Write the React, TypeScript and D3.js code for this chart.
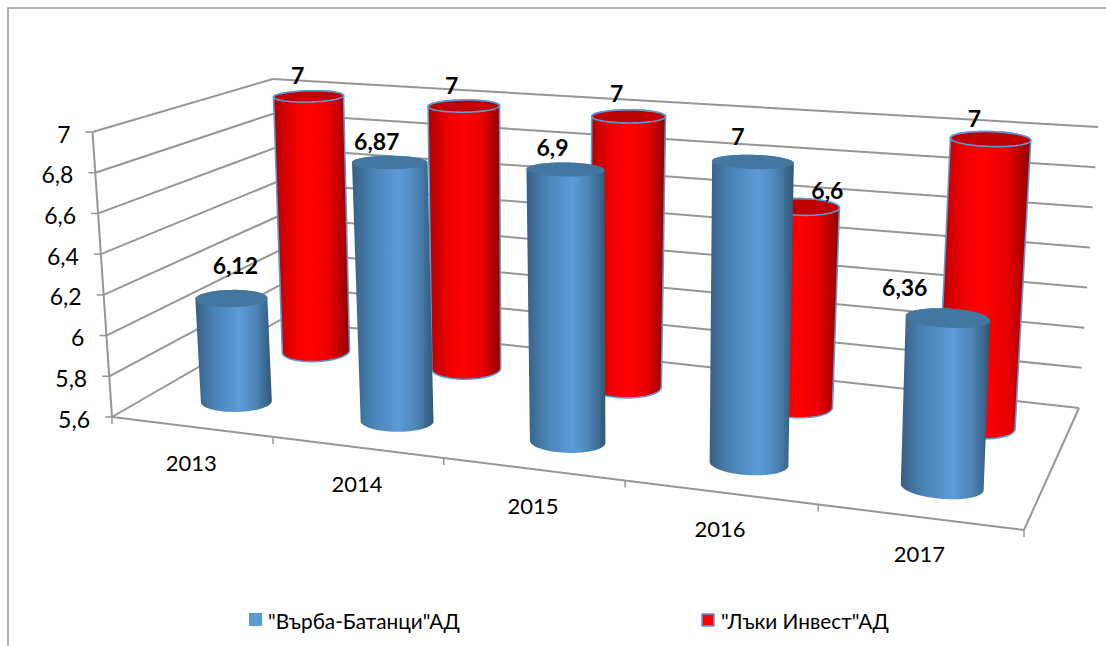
import React from "react";
import * as d3 from "d3";

const categories = ["2013", "2014", "2015", "2016", "2017"];
const seriesNames = ['"Върба-Батанци"АД', '"Лъки Инвест"АД'];
const varbaValues = [6.12, 6.87, 6.9, 7, 6.36];
const lakiValues = [7, 7, 7, 6.6, 7];
const valueTicks = [5.6, 5.8, 6, 6.2, 6.4, 6.6, 6.8, 7];
const tickLabels = ["5,6", "5,8", "6", "6,2", "6,4", "6,6", "6,8", "7"];
const varbaLabels = ["6,12", "6,87", "6,9", "7", "6,36"];
const lakiLabels = ["7", "7", "7", "6,6", "7"];

// label placement relative to the top of each cylinder
const varbaNudge: [number, number][] = [[4, -33], [-13, -21], [-13, -22], [-15, -26], [-43, -31]];
const lakiNudge: [number, number][] = [[-11, -21], [-12, -21], [-12, -23], [26, -17], [-16, -21]];

const W = 1106, H = 646;
const FONT = "Lato, Carlito, 'Noto Sans', sans-serif";
const GRID = "#969696";

// cube frame on screen: [x,y] of the eight corners (front/back, left/right, bottom/top)
const frame = {
  flb: [112, 417], frb: [1024, 530], blb: [280, 320], brb: [1079, 408],
  flt: [92.5, 132], frt: [1036, 203], blt: [273, 79], brt: [1098, 127],
};
const persp = 1.166;
const uScale = d3.scaleLinear().domain([0, categories.length]).range([0, 1]);
const vScale = d3.scaleLinear().domain([5.6, 7]).range([0, 1]);
const warp = (t: number) => t / (t + persp * (1 - t));
const mix = (a: number[], b: number[], t: number) => [a[0] + (b[0] - a[0]) * t, a[1] + (b[1] - a[1]) * t];

function project(cat: number, value: number, w: number): [number, number] {
  const u = warp(uScale(cat));
  const v = vScale(value);
  const f = frame;
  const bottom = mix(mix(f.flb, f.frb, u), mix(f.blb, f.brb, u), w);
  const top = mix(mix(f.flt, f.frt, u), mix(f.blt, f.brt, u), w);
  return mix(bottom, top, v) as [number, number];
}

const line = d3.line();
const closed = d3.line().curve(d3.curveLinearClosed);

const DU = 0.205, DW = 0.097, CENTER = 0.525;
const angles = d3.range(0, Math.PI * 2, Math.PI / 40);
function ring(i: number, value: number, w: number): [number, number][] {
  return angles.map((a) => project(i + CENTER + DU * Math.cos(a), value, w + DW * Math.sin(a)));
}

function Cylinder({ i, value, w, grad, cap, stroke }: any) {
  const base = ring(i, 5.6, w);
  const top = ring(i, value, w);
  const hull = d3.polygonHull([...base, ...top]) as [number, number][];
  return (
    <g>
      <path d={closed(hull) as string} fill={`url(#${grad})`} stroke={stroke} strokeWidth={stroke === "none" ? 0 : 1.6} />
      <path d={closed(top) as string} fill={cap} stroke={stroke} strokeWidth={stroke === "none" ? 0 : 1.6} />
    </g>
  );
}

const W_BLUE = 0.26, W_RED = 0.765;

export default function App() {
  const lakiBars = lakiValues.map((v, i) => <Cylinder key={i} i={i} value={v} w={W_RED} grad="redG" cap="#c00000" stroke="#5b9bd5" />);
  const varbaBars = varbaValues.map((v, i) => <Cylinder key={i} i={i} value={v} w={W_BLUE} grad="blueG" cap="#44779f" stroke="none" />);
  const gridWall = valueTicks.map((t) => (
    <g key={t}>
      <path d={line([project(0, t, 0), project(0, t, 1)]) as string} />
      <path d={line([project(0, t, 1), project(categories.length, t, 1)]) as string} />
    </g>
  ));
  const lbl = (txt: string, p: [number, number], n: [number, number], key: string) => (
    <text key={key} x={p[0] + n[0]} y={p[1] + n[1]} textAnchor="middle" dominantBaseline="central" fontSize={23} fontWeight={700} fill="#000" fontFamily={FONT}>{txt}</text>
  );
  return (
    <svg width={W} height={H} viewBox={`0 0 ${W} ${H}`} style={{ position: "absolute", left: 0, top: 0, background: "#fff" }}>
      <defs>
        <linearGradient id="blueG" x1="0" x2="1" y1="0" y2="0">
          <stop offset="0" stopColor="#376084" />
          <stop offset="0.25" stopColor="#4a83b6" />
          <stop offset="0.58" stopColor="#5b9bd8" />
          <stop offset="0.8" stopColor="#4c84b6" />
          <stop offset="1" stopColor="#305674" />
        </linearGradient>
        <linearGradient id="redG" x1="0" x2="1" y1="0" y2="0">
          <stop offset="0" stopColor="#b00000" />
          <stop offset="0.28" stopColor="#f00000" />
          <stop offset="0.5" stopColor="#ff0000" />
          <stop offset="0.75" stopColor="#e80000" />
          <stop offset="1" stopColor="#900000" />
        </linearGradient>
      </defs>

      <path d="M8,646V8H1106" fill="none" stroke="#969696" strokeWidth={1.5} />

      <g fill="none" stroke={GRID} strokeWidth={2}>
        {gridWall}
        <path d={line([project(0, 5.6, 0), project(0, 7, 0)]) as string} />
        <path d={line([project(0, 5.6, 0), project(categories.length, 5.6, 0)]) as string} />
        <path d={line([project(categories.length, 5.6, 0), project(categories.length, 5.6, 1)]) as string} />
        {valueTicks.map((t) => {
          const p = project(0, t, 0);
          return <path key={t} d={line([p, [p[0] - 7, p[1]]]) as string} strokeWidth={1.5} />;
        })}
        {d3.range(categories.length + 1).map((i) => {
          const p = project(i, 5.6, 0);
          return <path key={i} d={line([p, [p[0], p[1] + 7]]) as string} strokeWidth={1.5} />;
        })}
      </g>

      {lakiBars}
      {varbaBars}

      {valueTicks.map((t, i) => {
        const p = project(0, t, 0);
        return <text key={t} x={p[0] - 22} y={p[1] + 1.5} textAnchor="end" dominantBaseline="central" fontSize={23} fill="#000" fontFamily={FONT}>{tickLabels[i]}</text>;
      })}
      {categories.map((c, i) => {
        const p = project(i + 0.5, 5.6, 0);
        return <text key={c} x={p[0]} y={p[1] + 36} textAnchor="middle" dominantBaseline="central" fontSize={22} fill="#000" fontFamily={FONT}>{c}</text>;
      })}

      {varbaValues.map((v, i) => lbl(varbaLabels[i], project(i + CENTER, v, W_BLUE), varbaNudge[i], "b" + i))}
      {lakiValues.map((v, i) => lbl(lakiLabels[i], project(i + CENTER, v, W_RED), lakiNudge[i], "r" + i))}

      <rect x={249} y={613} width={13} height={13} fill="#5b9bd5" />
      <text x={268} y={620} dominantBaseline="central" fontSize={20.8} fill="#000" fontFamily={FONT}>{seriesNames[0]}</text>
      <rect x={702} y={614} width={12} height={12} fill="#ff0000" stroke="#5b9bd5" strokeWidth={1.5} />
      <text x={721} y={620} dominantBaseline="central" fontSize={20.8} fill="#000" fontFamily={FONT}>{seriesNames[1]}</text>
    </svg>
  );
}
